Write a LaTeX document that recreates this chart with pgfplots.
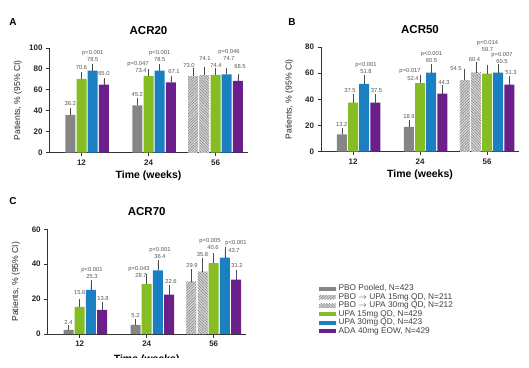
\documentclass[border=0pt]{standalone}
\usepackage{pgfplots}
\pgfplotsset{compat=1.18}
\usepackage{fontspec}
\setmainfont{Liberation Sans}
\usetikzlibrary{patterns.meta}
\definecolor{cgray}{HTML}{858585}
\definecolor{cgreen}{HTML}{86BC24}
\definecolor{cblue}{HTML}{1B80C1}
\definecolor{cpurple}{HTML}{6B1F8A}
\definecolor{lblgray}{HTML}{555555}
\pgfplotsset{
  panel/.style={
    scale only axis, width=198pt, height=104.7pt,
    xmin=0, xmax=198, ymin=0,
    axis x line*=bottom, axis y line*=left,
    axis line style={line width=0.9pt, black!80},
    xtick={32,99,166}, xticklabels={12,24,56},
    tick style={line width=0.9pt, black!80},
    major tick length=3.5pt, tick align=outside,
    ticklabel style={font=\fontsize{8}{9}\selectfont\bfseries, text=black!85},
    /pgf/number format/assume math mode=true,
    title style={font=\fontsize{11.5}{12}\selectfont\bfseries, at={(axis description cs:0.5,1)}, anchor=center, yshift=11.5pt},
    xlabel style={font=\fontsize{10.5}{11}\selectfont\bfseries, at={(axis description cs:0.5,0)}, anchor=center, yshift=-23pt},
    ylabel style={font=\fontsize{8.6}{9}\selectfont, text=black!85, at={(axis description cs:-0.16,0.5)}, anchor=center},
    ylabel={Patients, \% (95\% CI)},
    xlabel={Time (weeks)},
    clip=false,
  },
  bars/.style={ybar, bar width=10, draw=none,
    error bars/y dir=plus, error bars/y explicit,
    error bars/error bar style={line width=0.6pt, draw=black!70},
    error bars/error mark options={draw=black!70, line width=0.6pt, mark size=2.2pt},
    legend image code/.code={\fill[##1] (0pt,-2.2pt) rectangle (16.5pt,2.2pt);}},
  sgray/.style={bars, fill=cgray},
  sgreen/.style={bars, fill=cgreen},
  sblue/.style={bars, fill=cblue},
  spurple/.style={bars, fill=cpurple},
  shA/.style={bars, fill=black!16, postaction={pattern={Lines[angle=45,distance=2pt,line width=0.5pt]}, pattern color=black!50}},
  shB/.style={bars, fill=black!16, postaction={pattern={Lines[angle=-45,distance=2pt,line width=0.5pt]}, pattern color=black!50}},
}
\newcommand{\lbl}[3]{\node[font=\fontsize{5.8}{6}\selectfont, text=lblgray, inner sep=0pt] at (#1,{367-#2}) {#3};}
\begin{document}
\begin{tikzpicture}[x=1pt,y=1pt]
\useasboundingbox (0,0) rectangle (529,367);
% ---------- Panel A ----------
\begin{axis}[panel, at={(49.5pt,214.3pt)}, ymax=100, ytick={0,20,40,60,80,100}, title={ACR20}]
\addplot[sgray] coordinates {(20.8,36.2) +- (0,4.6) (87.8,45.2) +- (0,4.7)};
\addplot[shA] coordinates {(143.6,73.0) +- (0,6.0)};
\addplot[shB] coordinates {(154.8,74.1) +- (0,5.9)};
\addplot[sgreen] coordinates {(32,70.6) +- (0,4.3) (99,73.4) +- (0,4.2) (166,74.4) +- (0,4.1)};
\addplot[sblue] coordinates {(43.2,78.5) +- (0,3.9) (110.2,78.5) +- (0,3.9) (177.2,74.7) +- (0,4.1)};
\addplot[spurple] coordinates {(54.4,65.0) +- (0,4.5) (121.4,67.1) +- (0,4.4) (188.4,68.5) +- (0,4.4)};
\end{axis}
% ---------- Panel B ----------
\begin{axis}[panel, at={(321pt,215.3pt)}, ymax=80, ytick={0,20,40,60,80}, title={ACR50}]
\addplot[sgray] coordinates {(20.8,13.2) +- (0,3.2) (87.8,18.9) +- (0,3.7)};
\addplot[shA] coordinates {(143.6,54.5) +- (0,6.7)};
\addplot[shB] coordinates {(154.8,60.4) +- (0,6.6)};
\addplot[sgreen] coordinates {(32,37.5) +- (0,4.6) (99,52.4) +- (0,4.7) (166,59.7) +- (0,4.6)};
\addplot[sblue] coordinates {(43.2,51.8) +- (0,4.8) (110.2,60.5) +- (0,4.7) (177.2,60.5) +- (0,4.7)};
\addplot[spurple] coordinates {(54.4,37.5) +- (0,4.6) (121.4,44.3) +- (0,4.7) (188.4,51.3) +- (0,4.7)};
\end{axis}
% ---------- Panel C ----------
\begin{scope}
\clip (0,10) rectangle (529,367);
\begin{axis}[panel, at={(47.7pt,33pt)}, ymax=60, ytick={0,20,40,60}, title={ACR70},
  xlabel style={yshift=-3pt},
  legend style={at={(1.37,0.475)}, anchor=north west, draw=none, fill=none,
    font=\fontsize{8.3}{8.6}\selectfont, text=black!75, row sep=0pt, inner sep=0pt,
    nodes={inner xsep=3pt, inner ysep=0.4pt, text height=5.9pt, text depth=1.8pt}},
  legend cell align=left]
\addplot[sgray] coordinates {(20.8,2.4) +- (0,1.5) (87.8,5.2) +- (0,2.1)};
\addplot[shA] coordinates {(143.6,29.9) +- (0,6.2)};
\addplot[shB] coordinates {(154.8,35.8) +- (0,6.4)};
\addplot[sgreen] coordinates {(32,15.6) +- (0,3.4) (99,28.7) +- (0,4.3) (166,40.6) +- (0,4.6)};
\addplot[sblue] coordinates {(43.2,25.3) +- (0,4.1) (110.2,36.4) +- (0,4.6) (177.2,43.7) +- (0,4.7)};
\addplot[spurple] coordinates {(54.4,13.8) +- (0,3.3) (121.4,22.6) +- (0,4.0) (188.4,31.2) +- (0,4.4)};
\legend{PBO Pooled{,} N=423, PBO $\rightarrow$ UPA 15mg QD{,} N=211, PBO $\rightarrow$ UPA 30mg QD{,} N=212, UPA 15mg QD{,} N=429, UPA 30mg QD{,} N=423, ADA 40mg EOW{,} N=429}
\end{axis}
\end{scope}
% panel letters
\node[font=\fontsize{10}{10}\selectfont\bfseries] at (13,345) {A};
\node[font=\fontsize{10}{10}\selectfont\bfseries] at (292,345) {B};
\node[font=\fontsize{10}{10}\selectfont\bfseries] at (13,166) {C};
% value labels A
\lbl{70.3}{104}{36.2}
\lbl{81.5}{68}{70.6}
\lbl{92.7}{60}{78.5}
\lbl{92.7}{53}{p<0.001}
\lbl{103.9}{74}{65.0}
\lbl{137.3}{94.5}{45.2}
\lbl{138}{64}{p=0.047}
\lbl{141}{71}{73.4}
\lbl{159.7}{60}{78.5}
\lbl{159.7}{53}{p<0.001}
\lbl{174}{72}{67.1}
\lbl{189}{66}{73.0}
\lbl{205}{58.5}{74.1}
\lbl{216}{65.5}{74.4}
\lbl{229}{52.5}{p=0.046}
\lbl{229}{59}{74.7}
\lbl{240}{67}{68.5}
% value labels B
\lbl{341.8}{124.5}{13.2}
\lbl{350}{91}{37.5}
\lbl{366}{65.5}{p<0.001}
\lbl{366}{72}{51.8}
\lbl{376.5}{91}{37.5}
\lbl{409}{116.5}{18.9}
\lbl{410}{71.5}{p=0.017}
\lbl{413}{78.5}{52.4}
\lbl{431.5}{54.5}{p<0.001}
\lbl{431.5}{61}{60.5}
\lbl{444}{83}{44.3}
\lbl{456}{69}{54.5}
\lbl{474.5}{59.5}{60.4}
\lbl{487.5}{43}{p=0.014}
\lbl{487.5}{49.5}{59.7}
\lbl{502}{55.5}{p=0.007}
\lbl{502}{62}{60.5}
\lbl{511}{73}{51.3}
% value labels C
\lbl{68.5}{322}{2.4}
\lbl{79.7}{293}{15.6}
\lbl{92}{270.5}{p<0.001}
\lbl{92}{277}{25.3}
\lbl{103}{298.5}{13.8}
\lbl{135.5}{315.5}{5.2}
\lbl{139}{269}{p=0.043}
\lbl{141}{275.5}{28.7}
\lbl{160}{250.5}{p<0.001}
\lbl{160}{257}{36.4}
\lbl{171}{282}{22.6}
\lbl{192}{266}{29.9}
\lbl{202.5}{255}{35.8}
\lbl{210}{241.5}{p=0.005}
\lbl{213}{248}{40.6}
\lbl{236}{243.5}{p<0.001}
\lbl{234}{250.5}{43.7}
\lbl{237}{265.5}{31.2}
\end{tikzpicture}
\end{document}
